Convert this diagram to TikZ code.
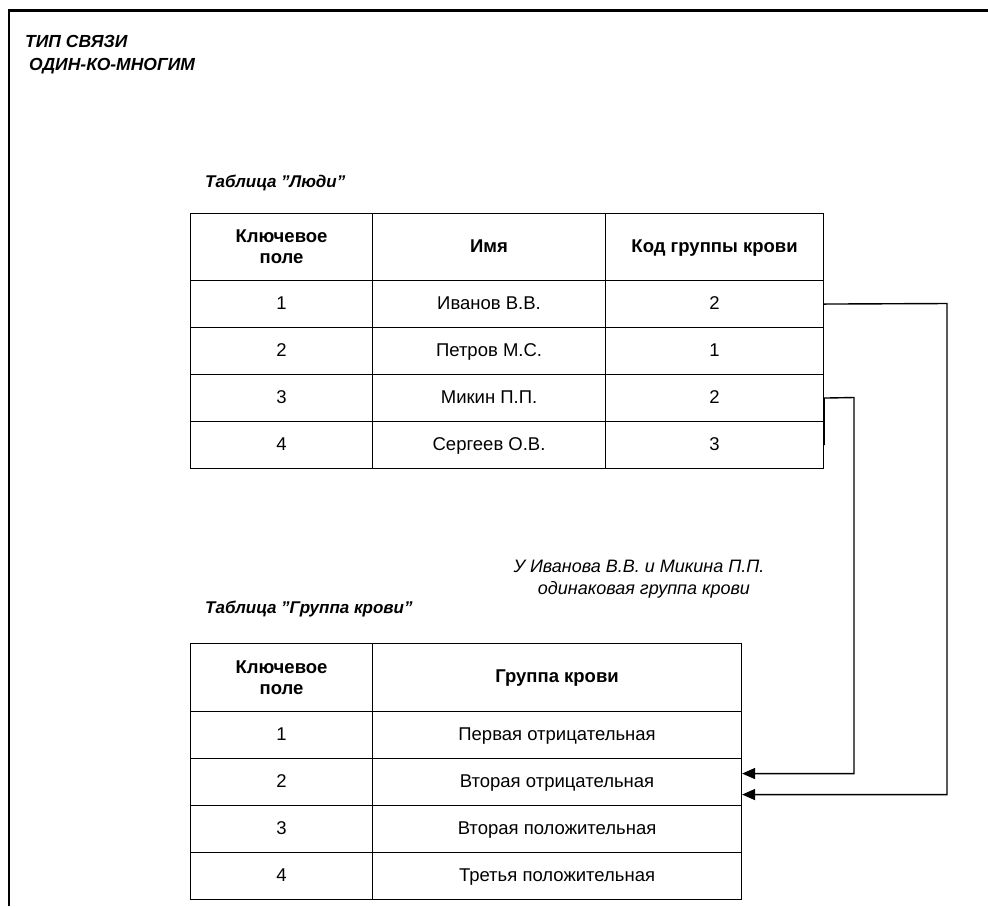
\documentclass[tikz,border=0pt]{standalone}
\usepackage{fontspec}
\setmainfont{Liberation Sans}
\usetikzlibrary{arrows.meta}
\tikzset{
  cell/.style={draw, line width=1.1pt, inner sep=0pt, anchor=north west,
    align=center, font=\fontsize{18.5}{21}\selectfont},
  linecell/.style={cell, text height=13.5pt, text depth=3.5pt},
  headcell/.style={cell, font=\fontsize{18.5}{21}\selectfont\bfseries},
  headline/.style={headcell, text height=13.5pt, text depth=3.5pt},
  caption/.style={anchor=west, inner sep=0pt,
    font=\fontsize{17}{19}\selectfont\bfseries\itshape},
  conn/.style={line width=1.4pt, -{Triangle[length=13pt,width=11pt]}},
  frame/.style={line width=2.5pt}
}
\begin{document}
\begin{tikzpicture}[x=1pt,y=-1pt]
\useasboundingbox (0,0) rectangle (988,906);

% outer frame (top and left edges)
\draw[frame] (9,906) -- (9,10.5) -- (988,10.5);

% heading
\node[caption, anchor=north west, align=left, font=\fontsize{17.5}{23}\selectfont\bfseries\itshape] (title) at (25,35)
  {ТИП СВЯЗИ\\\hspace*{4pt}ОДИН-КО-МНОГИМ};

% table "People"
\node[caption] (capA) at (205,183) {Таблица "Люди"};
\node[headcell, minimum width=182pt, minimum height=67pt] (t01) at (190,213) {Ключевое\\поле};
\node[headline, minimum width=233pt, minimum height=67pt] (t02) at (372,213) {Имя};
\node[headline, minimum width=218pt, minimum height=67pt] (t03) at (605,213) {Код группы крови};
\foreach \r/\y/\k/\n/\g in {1/280/1/Иванов В.В./2, 2/327/2/Петров М.С./1,
                            3/374/3/Микин П.П./2, 4/421/4/Сергеев О.В./3}{
  \node[linecell, minimum width=182pt, minimum height=47pt] (t\r1) at (190,\y) {\k};
  \node[linecell, minimum width=233pt, minimum height=47pt] (t\r2) at (372,\y) {\n};
  \node[linecell, minimum width=218pt, minimum height=47pt] (t\r3) at (605,\y) {\g};
}

% note
\node[inner sep=0pt, align=center, font=\fontsize{18}{22}\selectfont\itshape] (note) at (639,579)
  {У Иванова В.В. и Микина П.П.\\\hspace*{10pt}одинаковая группа крови};

% table "Blood group"
\node[caption] (capB) at (205,609) {Таблица "Группа крови"};
\node[headcell, minimum width=182pt, minimum height=68pt] (b01) at (190,643) {Ключевое\\поле};
\node[headline, minimum width=369pt, minimum height=68pt] (b02) at (372,643) {Группа крови};
\foreach \r/\y/\n in {1/711/Первая отрицательная, 2/758/Вторая отрицательная,
                      3/805/Вторая положительная, 4/852/Третья положительная}{
  \node[linecell, minimum width=182pt, minimum height=47pt] (b\r1) at (190,\y) {\r};
  \node[linecell, minimum width=369pt, minimum height=47pt] (b\r2) at (372,\y) {\n};
}

% links from blood-group codes to the blood-group table
\coordinate (k1) at (947,303.5);
\coordinate (k2) at (854,397.5);
\draw[conn] (t13.east) -- (k1) |- ([yshift=-12.5pt]b22.east);
\draw[conn] (t43.east) -- (t33.east) -- (k2) |- ([yshift=8.5pt]b22.east);
\end{tikzpicture}
\end{document}
